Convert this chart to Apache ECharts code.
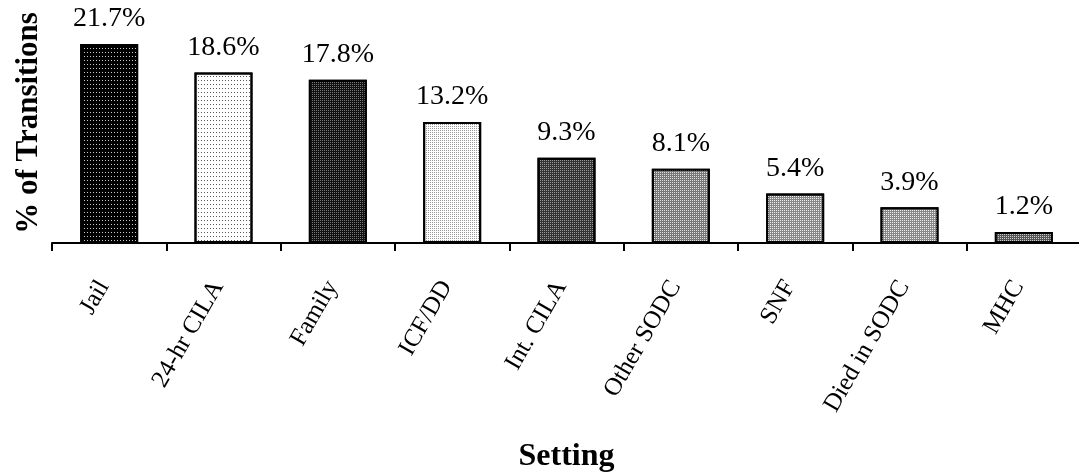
<!DOCTYPE html>
<html>
<head>
<meta charset="utf-8">
<script src="https://cdn.jsdelivr.net/npm/echarts@6/dist/echarts.min.js"></script>
<style>html,body{margin:0;padding:0;background:#fff;}#c{width:1079px;height:476px;}</style>
</head>
<body>
<div id="c"></div>
<script>
const categories = ['Jail', '24-hr CILA', 'Family', 'ICF/DD', 'Int. CILA', 'Other SODC', 'SNF', 'Died in SODC', 'MHC'];
const values = [21.7, 18.6, 17.8, 13.2, 9.3, 8.1, 5.4, 3.9, 1.2];
const yName = '% of Transitions';
const xName = 'Setting';

// visual fills (base colour, dot colour, dot spacing)
const fills = [
  ['#000000', '#cccccc', [1, 2], [1, 3]],
  ['#ffffff', '#555555', [1, 2], [1, 3]],
  ['#111111', '#777777', [1, 1], [1, 1]],
  ['#ffffff', '#999999', [1, 1], [1, 1]],
  ['#333333', '#999999', [1, 1], [1, 1]],
  ['#777777', '#e0e0e0', [1, 1], [1, 1]],
  ['#888888', '#eeeeee', [1, 1], [1, 1]],
  ['#888888', '#eeeeee', [1, 1], [1, 1]],
  ['#555555', '#cccccc', [1, 1], [1, 1]]
];

const FONT = '"Liberation Serif", "Times New Roman", serif';
const chart = echarts.init(document.getElementById('c'));
chart.setOption({
  animation: false,
  backgroundColor: '#fff',
  grid: { left: 52, right: -2, top: 23, bottom: 233, containLabel: false, outerBoundsMode: 'none' },
  xAxis: {
    type: 'category',
    data: categories,
    axisLine: { lineStyle: { color: '#000', width: 2 } },
    axisTick: { show: true, length: 8, lineStyle: { color: '#000', width: 2 }, alignWithLabel: false },
    axisLabel: { rotate: 60, fontFamily: FONT, fontSize: 25, color: '#000', margin: 30, interval: 0, padding: [0, 11, 0, 0] },
    name: xName,
    nameLocation: 'middle',
    nameGap: 198,
    nameTextStyle: { fontFamily: FONT, fontSize: 32, fontWeight: 'bold', color: '#000' }
  },
  yAxis: {
    type: 'value',
    min: 0,
    max: 24,
    splitLine: { show: false },
    axisLine: { show: false },
    axisTick: { show: false },
    axisLabel: { show: false },
    name: yName,
    nameLocation: 'middle',
    nameGap: 8,
    nameRotate: 90,
    nameTextStyle: { fontFamily: FONT, fontSize: 31, fontWeight: 'bold', color: '#000', padding: [0, 0, 0, 20] }
  },
  series: [{
    type: 'bar',
    barWidth: 58,
    data: values.map((v, i) => ({
      value: v,
      itemStyle: {
        color: fills[i][0],
        borderColor: '#000',
        borderWidth: 2,
        decal: { symbol: 'rect', symbolSize: 1, color: fills[i][1], dashArrayX: fills[i][2], dashArrayY: fills[i][3] }
      }
    })),
    label: {
      show: true,
      position: 'top',
      distance: 11,
      fontFamily: FONT,
      fontSize: 28,
      color: '#000',
      formatter: p => p.value.toFixed(1) + '%'
    }
  }]
});
</script>
</body>
</html>
